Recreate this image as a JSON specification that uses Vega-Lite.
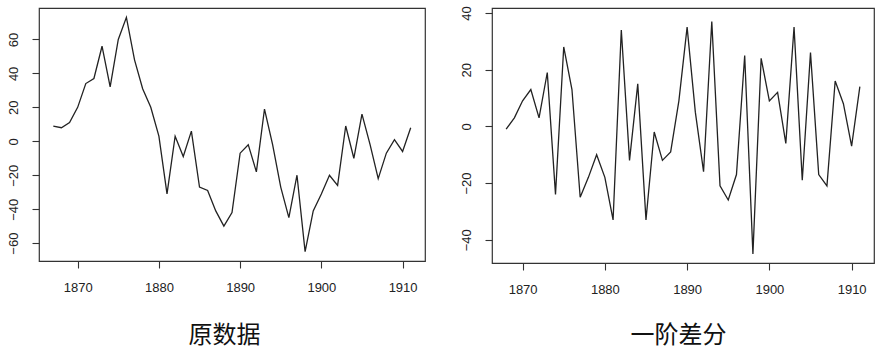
{
  "$schema": "https://vega.github.io/schema/vega-lite/v6.json",
  "padding": {"left": 6, "top": 5, "right": 0, "bottom": 0},
  "background": "white",
  "spacing": 33,
  "config": {
    "view": {"stroke": "#333333", "strokeWidth": 1.2},
    "axis": {
      "grid": false,
      "domain": false,
      "ticks": true,
      "tickSize": 7,
      "tickColor": "#333333",
      "tickWidth": 1.1,
      "labelFont": "Liberation Sans",
      "labelFontSize": 13,
      "labelColor": "#222222",
      "titleFont": "Noto Sans CJK SC",
      "titleFontSize": 24,
      "titleFontWeight": "normal",
      "titleColor": "#111111"
    }
  },
  "datasets": {
    "orig": [
      {"year": 1867, "v": 9}, {"year": 1868, "v": 8}, {"year": 1869, "v": 11}, {"year": 1870, "v": 20},
      {"year": 1871, "v": 34}, {"year": 1872, "v": 37}, {"year": 1873, "v": 56}, {"year": 1874, "v": 32},
      {"year": 1875, "v": 60}, {"year": 1876, "v": 73}, {"year": 1877, "v": 48}, {"year": 1878, "v": 31},
      {"year": 1879, "v": 20}, {"year": 1880, "v": 3}, {"year": 1881, "v": -31}, {"year": 1882, "v": 3},
      {"year": 1883, "v": -9}, {"year": 1884, "v": 6}, {"year": 1885, "v": -27}, {"year": 1886, "v": -29},
      {"year": 1887, "v": -41}, {"year": 1888, "v": -50}, {"year": 1889, "v": -42}, {"year": 1890, "v": -7},
      {"year": 1891, "v": -2}, {"year": 1892, "v": -18}, {"year": 1893, "v": 19}, {"year": 1894, "v": -2},
      {"year": 1895, "v": -27}, {"year": 1896, "v": -45}, {"year": 1897, "v": -20}, {"year": 1898, "v": -65},
      {"year": 1899, "v": -41}, {"year": 1900, "v": -31}, {"year": 1901, "v": -20}, {"year": 1902, "v": -26},
      {"year": 1903, "v": 9}, {"year": 1904, "v": -10}, {"year": 1905, "v": 16}, {"year": 1906, "v": -2},
      {"year": 1907, "v": -22}, {"year": 1908, "v": -7}, {"year": 1909, "v": 1}, {"year": 1910, "v": -6},
      {"year": 1911, "v": 8}
    ],
    "diff": [
      {"year": 1868, "v": -1}, {"year": 1869, "v": 3}, {"year": 1870, "v": 9}, {"year": 1871, "v": 13},
      {"year": 1872, "v": 3}, {"year": 1873, "v": 19}, {"year": 1874, "v": -24}, {"year": 1875, "v": 28},
      {"year": 1876, "v": 13}, {"year": 1877, "v": -25}, {"year": 1878, "v": -18}, {"year": 1879, "v": -10},
      {"year": 1880, "v": -18}, {"year": 1881, "v": -33}, {"year": 1882, "v": 34}, {"year": 1883, "v": -12},
      {"year": 1884, "v": 15}, {"year": 1885, "v": -33}, {"year": 1886, "v": -2}, {"year": 1887, "v": -12},
      {"year": 1888, "v": -9}, {"year": 1889, "v": 9}, {"year": 1890, "v": 35}, {"year": 1891, "v": 5},
      {"year": 1892, "v": -16}, {"year": 1893, "v": 37}, {"year": 1894, "v": -21}, {"year": 1895, "v": -26},
      {"year": 1896, "v": -17}, {"year": 1897, "v": 25}, {"year": 1898, "v": -45}, {"year": 1899, "v": 24},
      {"year": 1900, "v": 9}, {"year": 1901, "v": 12}, {"year": 1902, "v": -6}, {"year": 1903, "v": 35},
      {"year": 1904, "v": -19}, {"year": 1905, "v": 26}, {"year": 1906, "v": -17}, {"year": 1907, "v": -21},
      {"year": 1908, "v": 16}, {"year": 1909, "v": 8}, {"year": 1910, "v": -7}, {"year": 1911, "v": 14}
    ]
  },
  "hconcat": [
    {
      "width": 386,
      "height": 253,
      "data": {"name": "orig"},
      "mark": {"type": "line", "color": "#222222", "strokeWidth": 1.3, "clip": true},
      "encoding": {
        "x": {
          "field": "year", "type": "quantitative",
          "scale": {"domain": [1865.24, 1912.76], "nice": false, "zero": false},
          "axis": {"values": [1870, 1880, 1890, 1900, 1910], "format": "d", "labelPadding": 13, "title": "原数据", "titlePadding": 29, "titleX": 185, "titleAlign": "center"}
        },
        "y": {
          "field": "v", "type": "quantitative",
          "scale": {"domain": [-70.52, 78.52], "nice": false, "zero": false},
          "axis": {"values": [-60, -40, -20, 0, 20, 40, 60], "labelAngle": -90, "labelPadding": 12, "title": null}
        }
      }
    },
    {
      "width": 382,
      "height": 255,
      "data": {"name": "diff"},
      "mark": {"type": "line", "color": "#222222", "strokeWidth": 1.3, "clip": true},
      "encoding": {
        "x": {
          "field": "year", "type": "quantitative",
          "scale": {"domain": [1866.28, 1912.72], "nice": false, "zero": false},
          "axis": {"values": [1870, 1880, 1890, 1900, 1910], "format": "d", "labelPadding": 13, "title": "一阶差分", "titlePadding": 27, "titleX": 186, "titleAlign": "center"}
        },
        "y": {
          "field": "v", "type": "quantitative",
          "scale": {"domain": [-48.22, 41.76], "nice": false, "zero": false},
          "axis": {"values": [-40, -20, 0, 20, 40], "labelAngle": -90, "labelPadding": 12, "title": null}
        }
      }
    }
  ]
}
